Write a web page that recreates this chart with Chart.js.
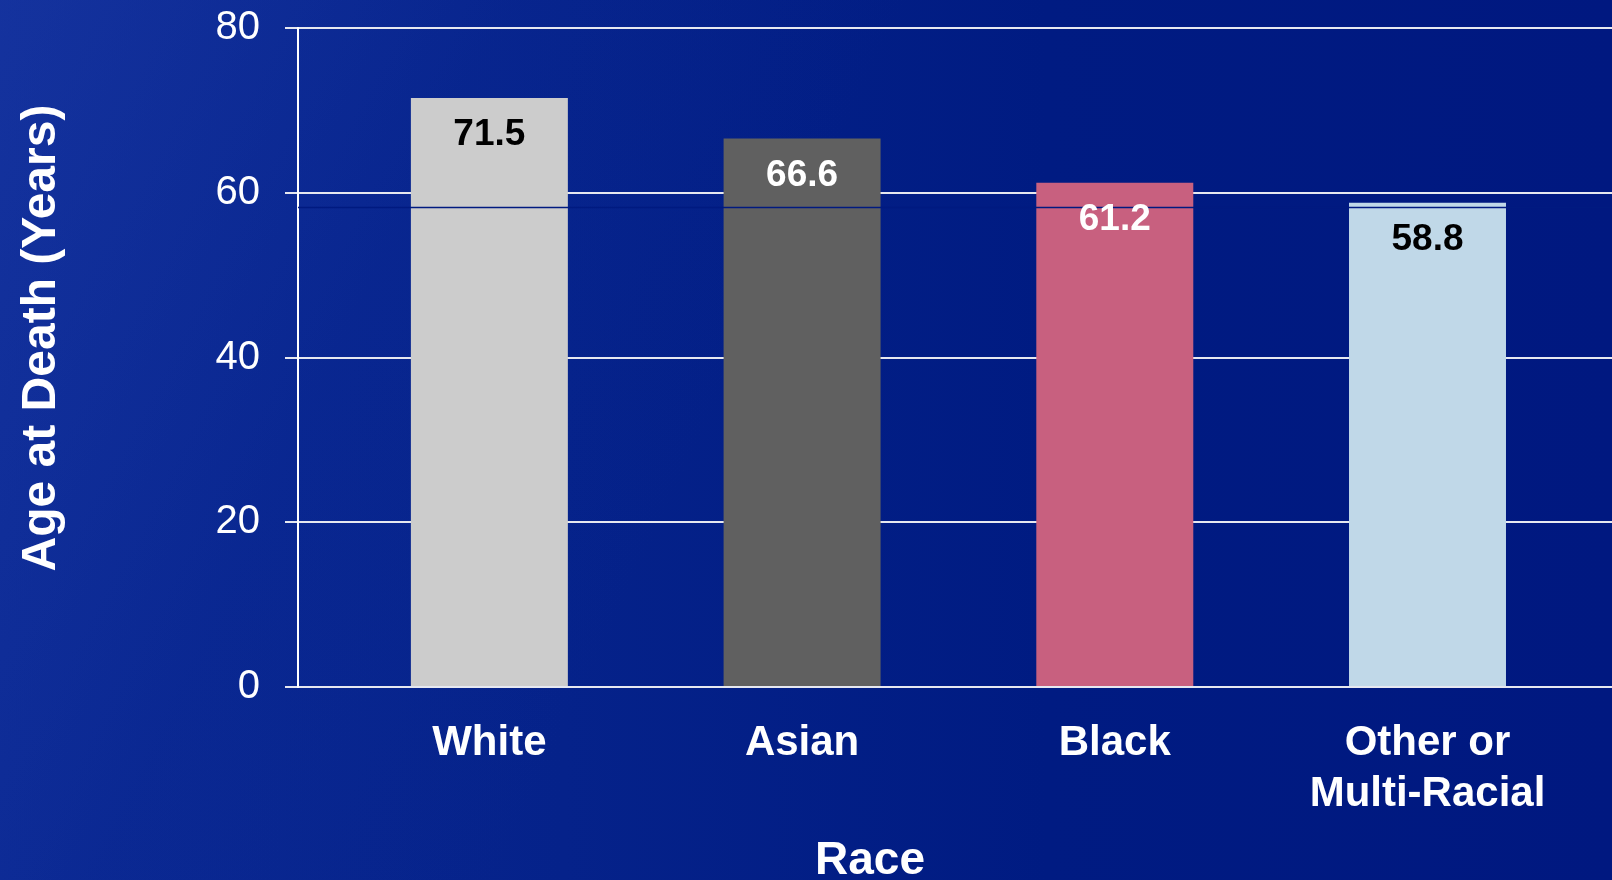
<!DOCTYPE html>
<html>
<head>
<meta charset="utf-8">
<script src="https://cdn.jsdelivr.net/npm/chart.js@4/dist/chart.umd.min.js"></script>
<style>
  html, body { margin: 0; padding: 0; }
  body {
    width: 1612px; height: 880px; overflow: hidden;
    background:
      linear-gradient(115deg, rgba(40,70,180,0.35) 0%, rgba(20,50,160,0.15) 25%, rgba(0,0,0,0) 45%),
      linear-gradient(90deg, #0a2892 0%, #05228a 35%, #001b82 65%, #001880 100%);
  }
  canvas { display: block; }
</style>
</head>
<body>
<canvas id="raceChart" width="1612" height="880"></canvas>
<script>
const categories = ['White', 'Asian', 'Black', ['Other or', 'Multi-Racial']];
const ageAtDeath = [71.5, 66.6, 61.2, 58.8];
const yTicks = [0, 20, 40, 60, 80];
const overallAge = 58.2; // dark line across the bars

const barColors = ['#cccccc', '#606060', '#c8607f', '#c0d8e8'];
const labelColors = ['#000000', '#ffffff', '#ffffff', '#000000'];
const FONT = "'Liberation Sans', Arial, sans-serif";

// value labels inside the bars, the dark reference line, and both axis titles
const extras = {
    id: 'extras',
    afterDatasetsDraw(chart) {
        const ctx = chart.ctx;
        const y = chart.scales.y;
        const area = chart.chartArea;
        const ly = y.getPixelForValue(overallAge);
        ctx.save();
        ctx.strokeStyle = '#001a80';
        ctx.lineWidth = 1.5;
        ctx.beginPath();
        ctx.moveTo(area.left, ly);
        ctx.lineTo(area.right, ly);
        ctx.stroke();

        ctx.font = `bold 37px ${FONT}`;
        ctx.textAlign = 'center';
        ctx.textBaseline = 'middle';
        chart.getDatasetMeta(0).data.forEach((bar, i) => {
            ctx.fillStyle = labelColors[i];
            ctx.fillText(ageAtDeath[i].toFixed(1), bar.x, bar.y + 37);
        });

        ctx.fillStyle = '#ffffff';
        ctx.font = `bold 46px ${FONT}`;
        ctx.fillText('Race', 870, 861);

        ctx.font = `bold 48px ${FONT}`;
        ctx.translate(42, 338);
        ctx.rotate(-Math.PI / 2);
        ctx.fillText('Age at Death (Years)', 0, 0);
        ctx.restore();
    }
};

new Chart(document.getElementById('raceChart'), {
    type: 'bar',
    data: {
        datasets: [{
            data: ageAtDeath.map((v, i) => ({ x: i, y: v })),
            backgroundColor: barColors,
            borderWidth: 0,
            barPercentage: 0.502,
            categoryPercentage: 1,
        }],
    },
    options: {
        responsive: false,
        animation: false,
        layout: { padding: { top: 28, left: 0, right: 0, bottom: 0 } },
        plugins: { legend: { display: false }, tooltip: { enabled: false } },
        scales: {
            x: {
                type: 'linear',
                offset: false,
                min: -0.612,
                max: 3.59,
                afterBuildTicks: s => { s.ticks = categories.map((c, i) => ({ value: i })); },
                afterFit: s => { s.height = 193; s.paddingLeft = 0; s.paddingRight = 0; },
                grid: { display: false, drawTicks: false, offset: false },
                border: { display: false },
                ticks: {
                    autoSkip: false,
                    maxRotation: 0,
                    padding: 31,
                    color: '#ffffff',
                    font: { family: FONT, size: 42, weight: 'bold', lineHeight: 1.22 },
                    callback: v => categories[v],
                },
            },
            y: {
                min: 0,
                max: 80,
                afterBuildTicks: s => { s.ticks = yTicks.map(v => ({ value: v })); },
                afterFit: s => { s.width = 298; s.paddingTop = 0; s.paddingBottom = 0; },
                grid: { color: '#e6e8f0', lineWidth: 2, tickLength: 13, drawTicks: true },
                border: { display: true, color: '#ffffff', width: 2 },
                ticks: {
                    padding: 25,
                    color: '#ffffff',
                    font: { family: FONT, size: 40 },
                },
            },
        },
    },
    plugins: [extras],
});
</script>
</body>
</html>
